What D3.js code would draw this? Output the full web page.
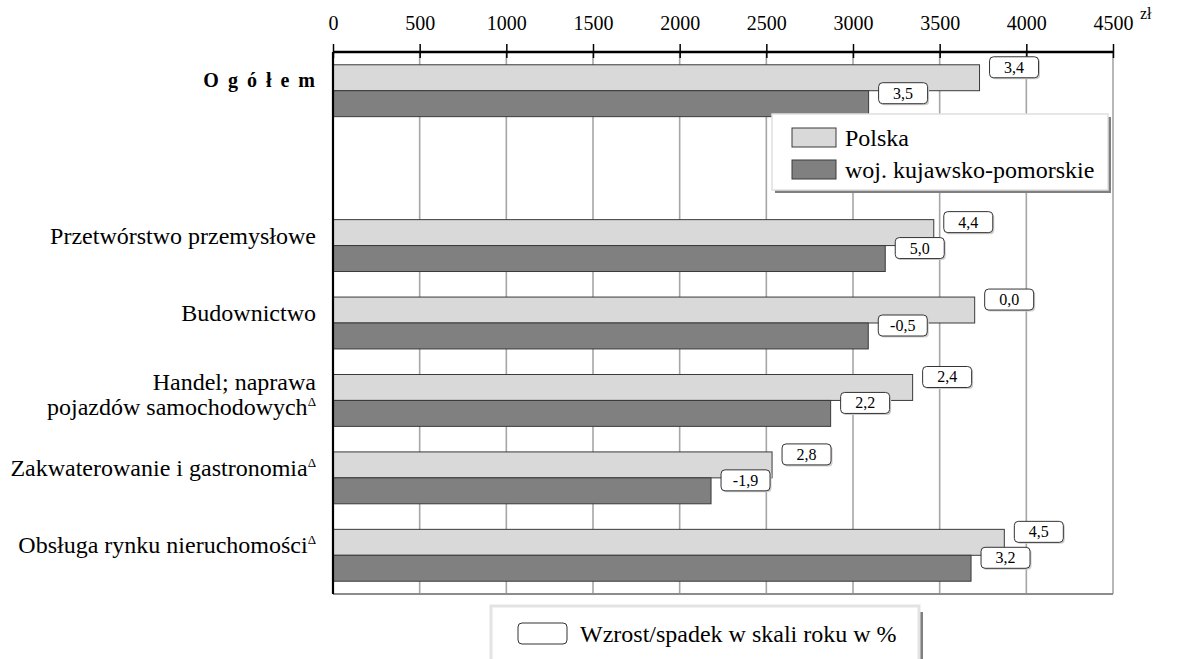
<!DOCTYPE html>
<html>
<head>
<meta charset="utf-8">
<script src="https://cdn.jsdelivr.net/npm/d3@7"></script>
<style>
  body { margin: 0; background: #fff; }
  text { font-family: "Liberation Serif", "Times New Roman", serif; fill: #000; }
</style>
</head>
<body>
<script>
// data
var categories = ["O g ó ł e m", "", "Przetwórstwo przemysłowe", "Budownictwo",
  "Handel; naprawa|pojazdów samochodowych", "Zakwaterowanie i gastronomia", "Obsługa rynku nieruchomości"];
var hasDelta = [false, false, false, false, true, true, true];
var polska = [3730, null, 3466, 3702, 3344, 2533, 3873];
var woj = [3090, null, 3186, 3088, 2871, 2181, 3681];
var polskaChange = [3.4, null, 4.4, 0.0, 2.4, 2.8, 4.5];
var wojChange = [3.5, null, 5.0, -0.5, 2.2, -1.9, 3.2];
var ticks = [0, 500, 1000, 1500, 2000, 2500, 3000, 3500, 4000, 4500];
var seriesNames = ["Polska", "woj. kujawsko-pomorskie"];
var colors = ["#d9d9d9", "#808080"];

var W = 1177, H = 659;
var pLeft = 333, pRight = 1113, pTop = 52, pBottom = 594;

var svg = d3.select("body").append("svg").attr("width", W).attr("height", H);

var x = d3.scaleLinear().domain([0, 4500]).range([pLeft, pRight]);
var y = d3.scaleBand().domain(d3.range(categories.length)).range([pTop, pBottom])
  .paddingInner(0.33).paddingOuter(0.165);
var y2 = d3.scaleBand().domain([0, 1]).range([0, y.bandwidth()]);

// grid
svg.selectAll("line.grid").data(ticks.slice(1)).enter().append("line")
  .attr("x1", function(d){ return x(d) }).attr("x2", function(d){ return x(d) })
  .attr("y1", pTop).attr("y2", pBottom)
  .attr("stroke", "#a6a6a6").attr("stroke-width", 1.6);
svg.append("line").attr("x1", pLeft).attr("x2", pRight).attr("y1", pBottom).attr("y2", pBottom)
  .attr("stroke", "#8c8c8c").attr("stroke-width", 2);

// bars
var rows = [];
categories.forEach(function(c, i){
  if (polska[i] == null) return;
  rows.push({i: i, s: 0, v: polska[i], ch: polskaChange[i]});
  rows.push({i: i, s: 1, v: woj[i], ch: wojChange[i]});
});

svg.selectAll("rect.bar").data(rows).enter().append("rect")
  .attr("x", x(0))
  .attr("y", function(d){ return y(d.i) + y2(d.s) })
  .attr("width", function(d){ return x(d.v) - x(0) })
  .attr("height", y2.bandwidth())
  .attr("fill", function(d){ return colors[d.s] })
  .attr("stroke", "#3a3a3a").attr("stroke-width", 1);

// axis
var axis = d3.axisTop(x).tickValues(ticks).tickFormat(d3.format("d")).tickSize(8).tickPadding(14);
var g = svg.append("g").attr("transform", "translate(0," + pTop + ")").call(axis);
g.select(".domain").attr("stroke", "#000").attr("stroke-width", 2.5).attr("d", "M" + pLeft + ",0H" + pRight);
g.selectAll(".tick line").attr("stroke", "#000").attr("stroke-width", 1.5).attr("y1", 6).attr("y2", -8);
g.selectAll(".tick text").style("font-family", "Liberation Serif").style("font-size", "20px").attr("fill", "#000");
svg.append("text").attr("x", 1140).attr("y", 19).style("font-size", "16px").text("zł");

svg.append("line").attr("x1", pLeft).attr("x2", pLeft).attr("y1", pTop).attr("y2", pBottom)
  .attr("stroke", "#000").attr("stroke-width", 2.2);

// category labels
categories.forEach(function(c, i){
  if (!c) return;
  var cy = y(i) + y.bandwidth() / 2;
  var lines = c.split("|");
  var t = svg.append("text").attr("text-anchor", "end").style("font-size", "24px");
  if (i === 0) {
    t.attr("x", 317).attr("y", cy - 4).style("font-weight", "bold").style("font-size", "20px")
      .style("letter-spacing", "2px").text(c);
    return;
  }
  lines.forEach(function(l, k){
    var base = lines.length === 1 ? cy - 2 : cy - 10 + k * 25;
    t.append("tspan").attr("x", 316).attr("y", base).text(l);
  });
  if (hasDelta[i]) {
    t.append("tspan").attr("dy", -9).style("font-size", "13px").text("Δ");
  }
});

// change labels
var fmt = function(v){ return v.toFixed(1).replace(".", ",") };
var lab = svg.selectAll("g.lab").data(rows).enter().append("g")
  .attr("transform", function(d){ return "translate(" + (x(d.v) + 10) + "," + (y(d.i) + y2(d.s) - 8) + ")" });
lab.append("rect").attr("x", 1.5).attr("y", 1.5).attr("width", 49).attr("height", 21).attr("rx", 4)
  .attr("fill", "#cfcfcf");
lab.append("rect").attr("width", 49).attr("height", 21).attr("rx", 4)
  .attr("fill", "#fff").attr("stroke", "#333").attr("stroke-width", 1);
lab.append("text").attr("x", 24.5).attr("y", 16).attr("text-anchor", "middle").style("font-size", "16px")
  .text(function(d){ return fmt(d.ch) });

// series legend
var lg = svg.append("g");
lg.append("rect").attr("x", 775).attr("y", 117).attr("width", 336).attr("height", 76).attr("fill", "#7f7f7f");
lg.append("rect").attr("x", 772).attr("y", 114).attr("width", 336).attr("height", 76)
  .attr("fill", "#fff").attr("stroke", "#e0e0e0").attr("stroke-width", 1.5);
seriesNames.forEach(function(n, k){
  lg.append("rect").attr("x", 792).attr("y", 128 + k * 32).attr("width", 44).attr("height", 19)
    .attr("fill", colors[k]).attr("stroke", "#3a3a3a").attr("stroke-width", 1);
  lg.append("text").attr("x", 845).attr("y", 146 + k * 32).style("font-size", "24px").text(n);
});

// change legend
var lb = svg.append("g");
lb.append("rect").attr("x", 920).attr("y", 612).attr("width", 3).attr("height", 60).attr("fill", "#7f7f7f");
lb.append("rect").attr("x", 491).attr("y", 606).attr("width", 428).attr("height", 70)
  .attr("fill", "#fff").attr("stroke", "#e3e3e3").attr("stroke-width", 3);
lb.append("rect").attr("x", 518).attr("y", 623).attr("width", 49).attr("height", 21).attr("rx", 4)
  .attr("fill", "#fff").attr("stroke", "#333").attr("stroke-width", 1);
lb.append("text").attr("x", 580).attr("y", 642).style("font-size", "24px").text("Wzrost/spadek w skali roku w %");
</script>
</body>
</html>
